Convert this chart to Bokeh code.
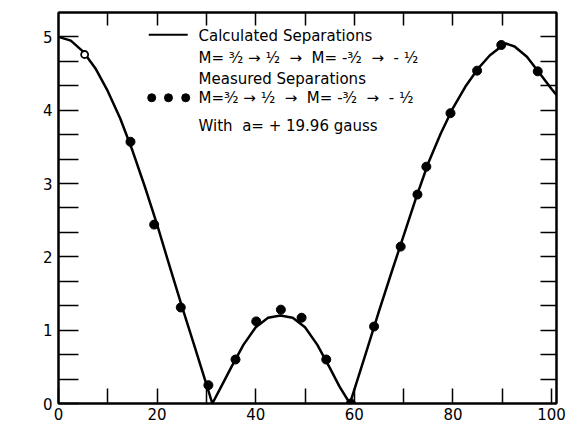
import math
from bokeh.plotting import figure
from bokeh.models import Range1d, LinearAxis, FixedTicker, Label, Grid
from bokeh.embed import file_html
from bokeh.resources import INLINE

# ---------------- data ----------------
calc_deg = [0, 2.5, 5, 7.5, 10, 12.5, 15, 17.5, 20, 22.5, 25, 27.5, 30, 31.2,
            33, 35, 37.5, 40, 42.5, 45, 47.5, 50, 52.5, 55, 57, 59.1,
            60, 62.5, 65, 67.5, 70, 72.5, 75, 77.5, 80, 82.5, 85, 87.5, 90, 90.7,
            92.5, 95, 97.5, 100, 101]
calc_val = [5.00, 4.95, 4.80, 4.57, 4.26, 3.89, 3.45, 2.96, 2.44, 1.88, 1.33, 0.80, 0.26, 0.0,
            0.23, 0.49, 0.80, 1.04, 1.17, 1.20, 1.17, 1.04, 0.80, 0.49, 0.23, 0.0,
            0.19, 0.72, 1.26, 1.78, 2.29, 2.80, 3.28, 3.68, 4.03, 4.32, 4.56, 4.75, 4.88, 4.91,
            4.87, 4.73, 4.51, 4.29, 4.21]

meas_deg = [14.6, 19.4, 24.8, 30.4, 35.9, 40.1, 45.1, 49.3, 54.3, 59.3,
            64.0, 69.4, 72.8, 74.6, 79.5, 84.9, 89.8, 97.2]
meas_val = [3.57, 2.44, 1.31, 0.25, 0.60, 1.12, 1.28, 1.17, 0.60, 0.0,
            1.05, 2.14, 2.85, 3.23, 3.96, 4.54, 4.89, 4.53]

open_deg = [5.3]
open_val = [4.76]

x_major = [0, 20, 40, 60, 80, 100]
x_minor = [10, 30, 50, 70, 90]
y_major = [0, 1, 2, 3, 4, 5]
y_minor = [k / 3 for k in range(1, 16) if k % 3 != 0]
y_all = [k / 3 for k in range(1, 16)]

NB = "\u00a0"
ARROW = NB + "\u2192" + NB
legend_rows = [
    "Calculated Separations",
    "M=" + NB + "\u00b3\u2044\u2082" + ARROW + "\u00b9\u2044\u2082" + NB + ARROW + NB
    + "M=" + NB + "-\u00b3\u2044\u2082" + NB + ARROW + NB + "-" + NB + "\u00b9\u2044\u2082",
    "Measured Separations",
    "M=\u00b3\u2044\u2082" + ARROW + "\u00b9\u2044\u2082" + NB + ARROW + NB
    + "M=" + NB + "-\u00b3\u2044\u2082" + NB + ARROW + NB + "-" + NB + "\u00b9\u2044\u2082",
    "With" + NB + NB + "a=" + NB + "+" + NB + "19.96" + NB + "gauss",
]

# ---------------- figure ----------------
FONT = "DejaVu Sans"
p = figure(width=566, height=444, x_range=Range1d(0, 101), y_range=Range1d(0, 5.333),
           output_backend="svg", toolbar_location=None,
           x_axis_location=None, y_axis_location=None,
           min_border_left=58, min_border_right=10, min_border_top=12, min_border_bottom=41)
p.outline_line_color = "black"
p.outline_line_width = 2
p.background_fill_color = "white"
p.border_fill_color = "white"
p.center = [r for r in p.center if not isinstance(r, Grid)]


def style(ax, tick_in):
    ax.axis_line_width = 2
    ax.axis_line_color = "black"
    ax.major_tick_in = tick_in
    ax.major_tick_out = 0
    ax.minor_tick_in = tick_in
    ax.minor_tick_out = 0
    ax.major_tick_line_width = 1.5
    ax.minor_tick_line_width = 1.5
    ax.major_label_text_font = FONT
    ax.major_label_text_font_size = "15px"
    ax.major_label_text_color = "black"


bottom = LinearAxis(ticker=FixedTicker(ticks=x_major, minor_ticks=x_minor))
style(bottom, 15)
bottom.major_label_standoff = 4
p.add_layout(bottom, "below")

left = LinearAxis(ticker=FixedTicker(ticks=y_major, minor_ticks=y_minor))
style(left, 20)
left.major_label_standoff = 6
p.add_layout(left, "left")

top = LinearAxis(ticker=FixedTicker(ticks=[], minor_ticks=x_minor + [20, 40, 60, 80]))
style(top, 13)
p.add_layout(top, "above")

right = LinearAxis(ticker=FixedTicker(ticks=[], minor_ticks=y_all))
style(right, 16)
p.add_layout(right, "right")

# ---------------- marks ----------------
p.line(calc_deg, calc_val, line_color="black", line_width=2.5, line_join="round")
p.scatter(meas_deg, meas_val, size=9, fill_color="black", line_color="black")
p.scatter(open_deg, open_val, size=7, fill_color="white", line_color="black", line_width=1.8)

# ---------------- legend / annotation layout ----------------
lx_text = 28.4
row_y = [5.01, 4.71, 4.43, 4.17, 3.79]
for txt, yy in zip(legend_rows, row_y):
    p.add_layout(Label(x=lx_text, y=yy, text=txt, text_font=FONT, text_font_size="15px",
                       text_baseline="middle", text_align="left", text_color="black"))
p.segment(x0=[18.3], y0=[5.03], x1=[26.2], y1=[5.03], line_color="black", line_width=2)
p.scatter([18.9, 22.3, 25.8], [4.17, 4.17, 4.17], size=8, fill_color="black", line_color="black")

p.add_layout(Label(x=50.5, y=-0.42, text="DEGREES", text_font=FONT, text_font_size="17px",
                   text_align="center", text_baseline="middle", text_color="black"))
p.add_layout(Label(x=-4.67, y=2.47, text="a Units", text_font=FONT, text_font_size="22px",
                   text_align="center", text_baseline="middle", angle=math.pi / 2,
                   text_color="black"))

open("out.html", "w").write(file_html(p, INLINE))
